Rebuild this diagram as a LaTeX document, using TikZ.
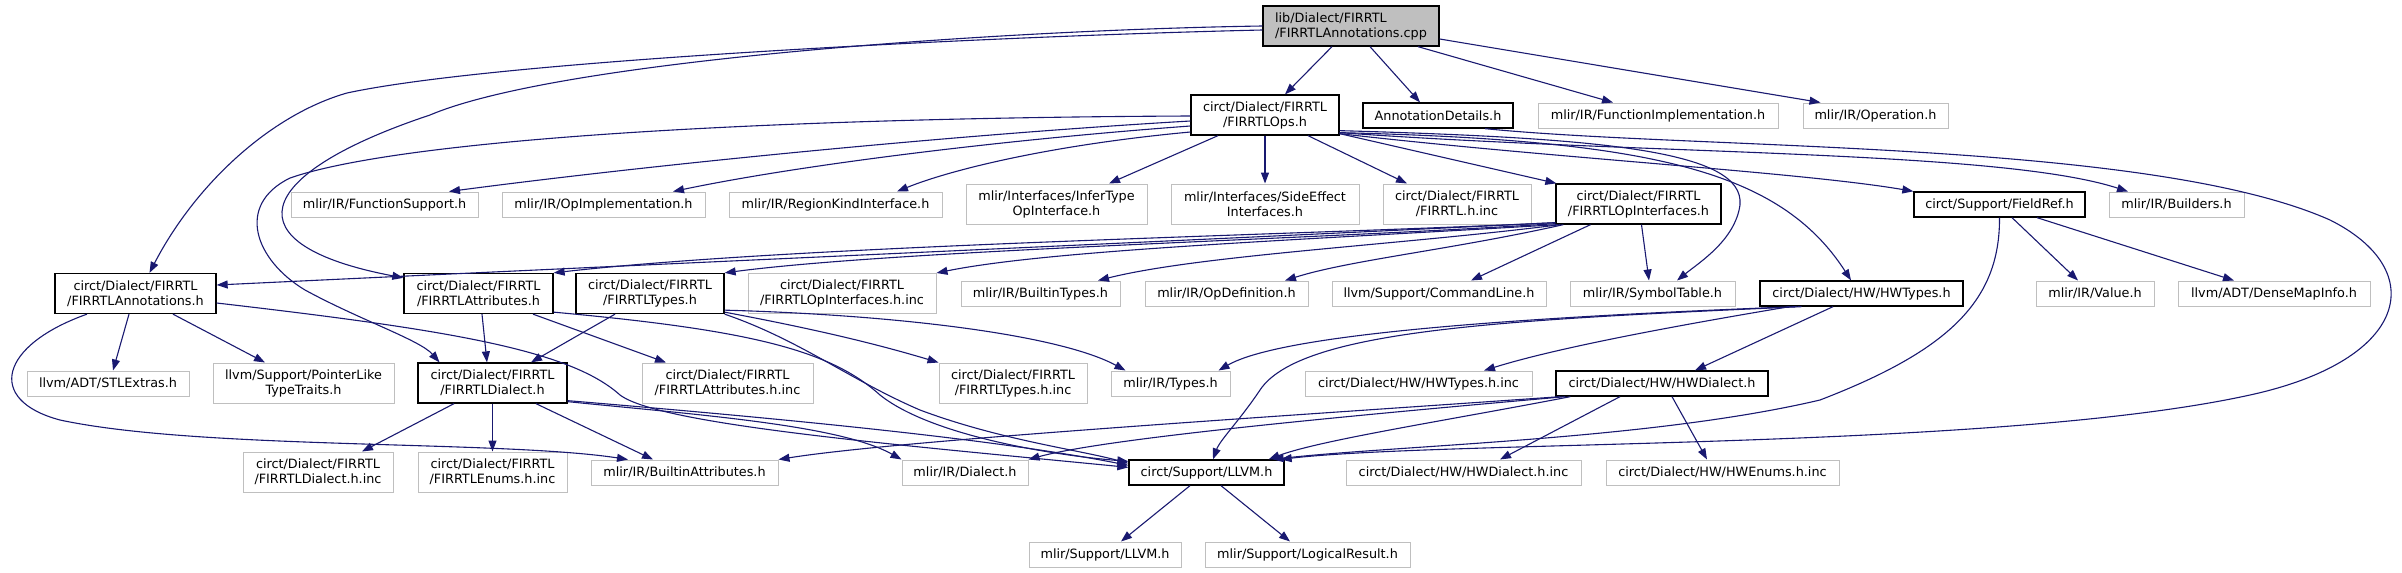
\documentclass[tikz,border=0pt]{standalone}
\usepackage{fontspec}
\setmainfont{DejaVu Sans}
\usetikzlibrary{arrows.meta}
\definecolor{edge-blue}{HTML}{191970}
\definecolor{grey-line}{HTML}{BFBFBF}
\definecolor{grey-fill}{HTML}{BFBFBF}

\begin{document}
\begin{tikzpicture}[x=1pt, y=-1pt,
    every node/.style={font=\fontsize{12.8}{15}\selectfont, inner sep=0pt, align=center},
    extfile/.style={draw=grey-line, line width=1pt, minimum height=25pt},
    srcfile/.style={draw=black, line width=1.3pt, minimum height=25pt},
    rootfile/.style={draw=black, fill=grey-fill, line width=1.3pt},
    dep/.style={draw=edge-blue, line width=1.1pt, -{Triangle[length=11pt, width=8pt]}}]
    \useasboundingbox (0,0) rectangle (2402,573);

    \node[rootfile, minimum width=176pt, minimum height=40pt, align=left] (root) at (1351,26)
      {lib/Dialect/FIRRTL\\/FIRRTLAnnotations.cpp};

    \node[srcfile, minimum width=148pt, minimum height=40pt] (ops) at (1265,115)
      {circt/Dialect/FIRRTL\\/FIRRTLOps.h};
    \node[srcfile, minimum width=150pt] (anndet) at (1438,115.5) {AnnotationDetails.h};
    \node[extfile, minimum width=240pt] (funcimpl) at (1658,115.5) {mlir/IR/FunctionImplementation.h};
    \node[extfile, minimum width=145pt] (operation) at (1875.5,115.5) {mlir/IR/Operation.h};

    \node[extfile, minimum width=187pt] (funcsup) at (384.5,204.5) {mlir/IR/FunctionSupport.h};
    \node[extfile, minimum width=203pt] (opimpl) at (603.5,204.5) {mlir/IR/OpImplementation.h};
    \node[extfile, minimum width=213pt] (regkind) at (835.5,204.5) {mlir/IR/RegionKindInterface.h};
    \node[extfile, minimum width=181pt, minimum height=40pt] (infertype) at (1056.5,204)
      {mlir/Interfaces/InferType\\OpInterface.h};
    \node[extfile, minimum width=188pt, minimum height=40pt] (sideeff) at (1265,204)
      {mlir/Interfaces/SideEffect\\Interfaces.h};
    \node[extfile, minimum width=148pt, minimum height=40pt] (firrtlinc) at (1457,204)
      {circt/Dialect/FIRRTL\\/FIRRTL.h.inc};
    \node[srcfile, minimum width=165pt, minimum height=40pt] (opintf) at (1638.5,204)
      {circt/Dialect/FIRRTL\\/FIRRTLOpInterfaces.h};
    \node[srcfile, minimum width=171pt] (fieldref) at (1999.5,204.5) {circt/Support/FieldRef.h};
    \node[extfile, minimum width=135pt] (builders) at (2176.5,204.5) {mlir/IR/Builders.h};

    \node[srcfile, minimum width=161pt, minimum height=40pt] (annot) at (135.5,293.5)
      {circt/Dialect/FIRRTL\\/FIRRTLAnnotations.h};
    \node[srcfile, minimum width=149pt, minimum height=40pt] (attr) at (478.5,293.5)
      {circt/Dialect/FIRRTL\\/FIRRTLAttributes.h};
    \node[srcfile, minimum width=148pt, minimum height=40pt] (types) at (650,293.5)
      {circt/Dialect/FIRRTL\\/FIRRTLTypes.h};
    \node[extfile, minimum width=188pt, minimum height=40pt] (opintfinc) at (842,293.5)
      {circt/Dialect/FIRRTL\\/FIRRTLOpInterfaces.h.inc};
    \node[extfile, minimum width=159pt] (builtintypes) at (1040.5,293.5) {mlir/IR/BuiltinTypes.h};
    \node[extfile, minimum width=163pt] (opdef) at (1226.5,293.5) {mlir/IR/OpDefinition.h};
    \node[extfile, minimum width=214pt] (cmdline) at (1439,293.5) {llvm/Support/CommandLine.h};
    \node[extfile, minimum width=165pt] (symtab) at (1652.5,293.5) {mlir/IR/SymbolTable.h};
    \node[srcfile, minimum width=203pt] (hwtypes) at (1861.5,293.5) {circt/Dialect/HW/HWTypes.h};
    \node[extfile, minimum width=118pt] (value) at (2095,293.5) {mlir/IR/Value.h};
    \node[extfile, minimum width=192pt] (densemap) at (2274,293.5) {llvm/ADT/DenseMapInfo.h};

    \node[extfile, minimum width=162pt] (stlextras) at (108,383.5) {llvm/ADT/STLExtras.h};
    \node[extfile, minimum width=181pt, minimum height=40pt] (ptrlike) at (303.5,383)
      {llvm/Support/PointerLike\\TypeTraits.h};
    \node[srcfile, minimum width=149pt, minimum height=40pt] (dialect) at (492.5,383)
      {circt/Dialect/FIRRTL\\/FIRRTLDialect.h};
    \node[extfile, minimum width=171pt, minimum height=40pt] (attrinc) at (727.5,383)
      {circt/Dialect/FIRRTL\\/FIRRTLAttributes.h.inc};
    \node[extfile, minimum width=148pt, minimum height=40pt] (typesinc) at (1013,383)
      {circt/Dialect/FIRRTL\\/FIRRTLTypes.h.inc};
    \node[extfile, minimum width=119pt] (mtypes) at (1170.5,383.5) {mlir/IR/Types.h};
    \node[extfile, minimum width=227pt] (hwtypesinc) at (1418.5,383.5) {circt/Dialect/HW/HWTypes.h.inc};
    \node[srcfile, minimum width=212pt] (hwdialect) at (1662,383.5) {circt/Dialect/HW/HWDialect.h};

    \node[extfile, minimum width=150pt, minimum height=40pt] (dialectinc) at (318,472)
      {circt/Dialect/FIRRTL\\/FIRRTLDialect.h.inc};
    \node[extfile, minimum width=149pt, minimum height=40pt] (enumsinc) at (492.5,472)
      {circt/Dialect/FIRRTL\\/FIRRTLEnums.h.inc};
    \node[extfile, minimum width=187pt] (builtinattr) at (684.5,472.5) {mlir/IR/BuiltinAttributes.h};
    \node[extfile, minimum width=126pt] (mdialect) at (965,472.5) {mlir/IR/Dialect.h};
    \node[srcfile, minimum width=155pt] (llvm) at (1206.5,472.5) {circt/Support/LLVM.h};
    \node[extfile, minimum width=235pt] (hwdialectinc) at (1463.5,472.5) {circt/Dialect/HW/HWDialect.h.inc};
    \node[extfile, minimum width=233pt] (hwenumsinc) at (1722.5,472.5) {circt/Dialect/HW/HWEnums.h.inc};

    \node[extfile, minimum width=152pt] (mllvm) at (1105,554.5) {mlir/Support/LLVM.h};
    \node[extfile, minimum width=205pt] (logres) at (1307.5,554.5) {mlir/Support/LogicalResult.h};

    % includes of the .cpp file
    \draw[dep] ([xshift=-19pt]root.south) -- ([xshift=20pt]ops.north);
    \draw[dep] ([xshift=19pt]root.south) -- ([xshift=-18pt]anndet.north);
    \draw[dep] ([xshift=67pt]root.south) -- ([xshift=-45pt]funcimpl.north);
    \draw[dep] ([yshift=-13pt]root.east) -- ([xshift=-55pt]operation.north);
    \draw[dep] ([yshift=-4pt]root.west) .. controls (1000,36) and (500,60) .. (347,93)
      .. controls (270,115) and (195,185) .. ([xshift=14pt]annot.north);
    \draw[dep] (root.west) .. controls (1000,30) and (560,60) .. (430,115)
      .. controls (250,175) and (230,245) .. ([yshift=-5pt]attr.north west);

    % FIRRTLOps.h
    \draw[dep] ([yshift=-6pt]ops.west) .. controls (950,135) and (650,165) .. ([xshift=64.5pt]funcsup.north);
    \draw[dep] ([yshift=-11pt]ops.west) .. controls (1000,140) and (800,165) .. ([xshift=69.5pt]opimpl.north);
    \draw[dep] ([yshift=-17pt]ops.west) .. controls (1050,145) and (950,170) .. ([xshift=61.5pt]regkind.north);
    \draw[dep] ([xshift=-47pt]ops.south) -- ([xshift=52.5pt]infertype.north);
    \draw[dep] (ops.south) -- (sideeff.north);
    \draw[dep] ([xshift=43pt]ops.south) -- ([xshift=-50pt]firrtlinc.north);
    \draw[dep] ([yshift=2pt]ops.south east) -- ([xshift=1pt]opintf.north west);
    \draw[dep] ([yshift=-1pt]ops.west) .. controls (750,118) and (400,140) .. (290,178)
      .. controls (235,205) and (255,260) .. (305,290)
      .. controls (360,320) and (420,340) .. ([xshift=-53pt]dialect.north);
    \draw[dep] ([yshift=2pt]ops.south east) .. controls (1550,158) and (1800,172) .. (fieldref.north west);
    \draw[dep] ([yshift=3pt]ops.south east) .. controls (1650,155) and (2000,150) .. ([xshift=-48.5pt]builders.north);
    \draw[dep] ([yshift=5pt]ops.south east) .. controls (1600,138) and (1745,150) .. (1740,205)
      .. controls (1735,240) and (1700,262) .. ([xshift=24.5pt]symtab.north);
    \draw[dep] ([yshift=3pt]ops.south east) .. controls (1650,140) and (1780,170) .. ([xshift=-10.5pt]hwtypes.north);

    \draw[dep] ([xshift=47pt]anndet.south) .. controls (1700,150) and (2150,140) .. (2330,220)
      .. controls (2430,270) and (2410,360) .. (2250,395)
      .. controls (2000,450) and (1450,440) .. ([xshift=-4pt]llvm.north east);

    % FIRRTLOpInterfaces.h
    \draw[dep] ([yshift=2pt]opintf.south west) .. controls (1200,240) and (700,262) .. ([yshift=8.5pt]annot.east);
    \draw[dep] ([yshift=2pt]opintf.south west) .. controls (1300,235) and (800,245) .. (attr.north east);
    \draw[dep] ([yshift=1pt]opintf.south west) .. controls (1300,240) and (900,250) .. (types.north east);
    \draw[dep] ([xshift=2pt]opintf.south west) .. controls (1300,240) and (1050,250) .. (opintfinc.north east);
    \draw[dep] ([xshift=5pt]opintf.south west) .. controls (1400,245) and (1200,255) .. ([xshift=57.5pt]builtintypes.north);
    \draw[dep] ([xshift=8pt]opintf.south west) .. controls (1450,250) and (1350,260) .. ([xshift=58.5pt]opdef.north);
    \draw[dep] ([xshift=-48pt]opintf.south) -- ([xshift=32pt]cmdline.north);
    \draw[dep] ([xshift=3pt]opintf.south) -- ([xshift=-3.5pt]symtab.north);

    % FieldRef.h
    \draw[dep] ([xshift=12.5pt]fieldref.south) -- ([xshift=-17pt]value.north);
    \draw[dep] ([xshift=37.5pt]fieldref.south) -- ([xshift=-40pt]densemap.north);
    \draw[dep] (fieldref.south) .. controls (2000,300) and (1950,350) .. (1820,400)
      .. controls (1650,440) and (1400,445) .. ([xshift=-12pt]llvm.north east);

    % FIRRTLAnnotations.h
    \draw[dep] ([xshift=-6.5pt]annot.south) -- ([xshift=5pt]stlextras.north);
    \draw[dep] ([xshift=37.5pt]annot.south) -- ([xshift=-38.5pt]ptrlike.north);
    \draw[dep] ([xshift=-48.5pt]annot.south) .. controls (0,345) and (-15,400) .. (60,420)
      .. controls (200,450) and (500,440) .. ([xshift=-56.5pt]builtinattr.north);
    \draw[dep] ([yshift=-9.5pt]annot.east) .. controls (450,330) and (570,350) .. (620,395)
      .. controls (660,425) and (900,445) .. ([yshift=-8pt]llvm.north west);

    % FIRRTLAttributes.h and FIRRTLTypes.h
    \draw[dep] ([xshift=3.5pt]attr.south) -- ([xshift=-5.5pt]dialect.north);
    \draw[dep] ([xshift=54.5pt]attr.south) -- ([xshift=-61.5pt]attrinc.north);
    \draw[dep] ([yshift=2pt]attr.south east) .. controls (750,330) and (830,350) .. (880,395)
      .. controls (930,435) and (1050,455) .. ([yshift=-2pt]llvm.north west);
    \draw[dep] ([xshift=-35pt]types.south) -- ([xshift=38.5pt]dialect.north);
    \draw[dep] ([yshift=2pt]types.south east) .. controls (820,330) and (880,345) .. (typesinc.north west);
    \draw[dep] ([yshift=4pt]types.south east) .. controls (900,315) and (1060,335) .. ([xshift=15pt]mtypes.north west);
    \draw[dep] (types.south east) .. controls (800,340) and (850,380) .. (920,410)
      .. controls (1000,440) and (1080,450) .. ([yshift=-4pt]llvm.north west);

    % FIRRTLDialect.h
    \draw[dep] ([xshift=-38.5pt]dialect.south) -- ([xshift=44pt]dialectinc.north);
    \draw[dep] (dialect.south) -- (enumsinc.north);
    \draw[dep] ([xshift=43.5pt]dialect.south) -- ([xshift=-31.5pt]builtinattr.north);
    \draw[dep] ([yshift=2pt]dialect.south east) .. controls (700,415) and (840,425) .. (mdialect.north west);
    \draw[dep] ([yshift=3pt]dialect.south east) .. controls (800,420) and (1000,440) .. ([yshift=-6pt]llvm.north west);

    % HW headers
    \draw[dep] ([xshift=-65pt]hwtypes.south) .. controls (1500,318) and (1280,335) .. ([xshift=-12pt]mtypes.north east);
    \draw[dep] ([xshift=-72pt]hwtypes.south) .. controls (1650,330) and (1550,350) .. ([xshift=65.5pt]hwtypesinc.north);
    \draw[dep] ([xshift=-28.5pt]hwtypes.south) -- ([xshift=33pt]hwdialect.north);
    \draw[dep] ([xshift=-60pt]hwtypes.south) .. controls (1500,320) and (1300,330) .. (1260,390)
      .. controls (1240,420) and (1220,440) .. ([xshift=6.5pt]llvm.north);
    \draw[dep] ([xshift=10pt]hwdialect.south west) .. controls (1300,420) and (1100,440) .. (mdialect.north east);
    \draw[dep] ([xshift=5pt]hwdialect.south west) .. controls (1300,415) and (900,440) .. (builtinattr.north east);
    \draw[dep] ([xshift=15pt]hwdialect.south west) .. controls (1450,420) and (1320,440) .. ([xshift=-16pt]llvm.north east);
    \draw[dep] ([xshift=-42pt]hwdialect.south) -- ([xshift=36.5pt]hwdialectinc.north);
    \draw[dep] ([xshift=10pt]hwdialect.south) -- ([xshift=-15.5pt]hwenumsinc.north);

    % circt/Support/LLVM.h
    \draw[dep] ([xshift=-16.5pt]llvm.south) -- ([xshift=16pt]mllvm.north);
    \draw[dep] ([xshift=14.5pt]llvm.south) -- ([xshift=-17.5pt]logres.north);
  \end{tikzpicture}
\end{document}
